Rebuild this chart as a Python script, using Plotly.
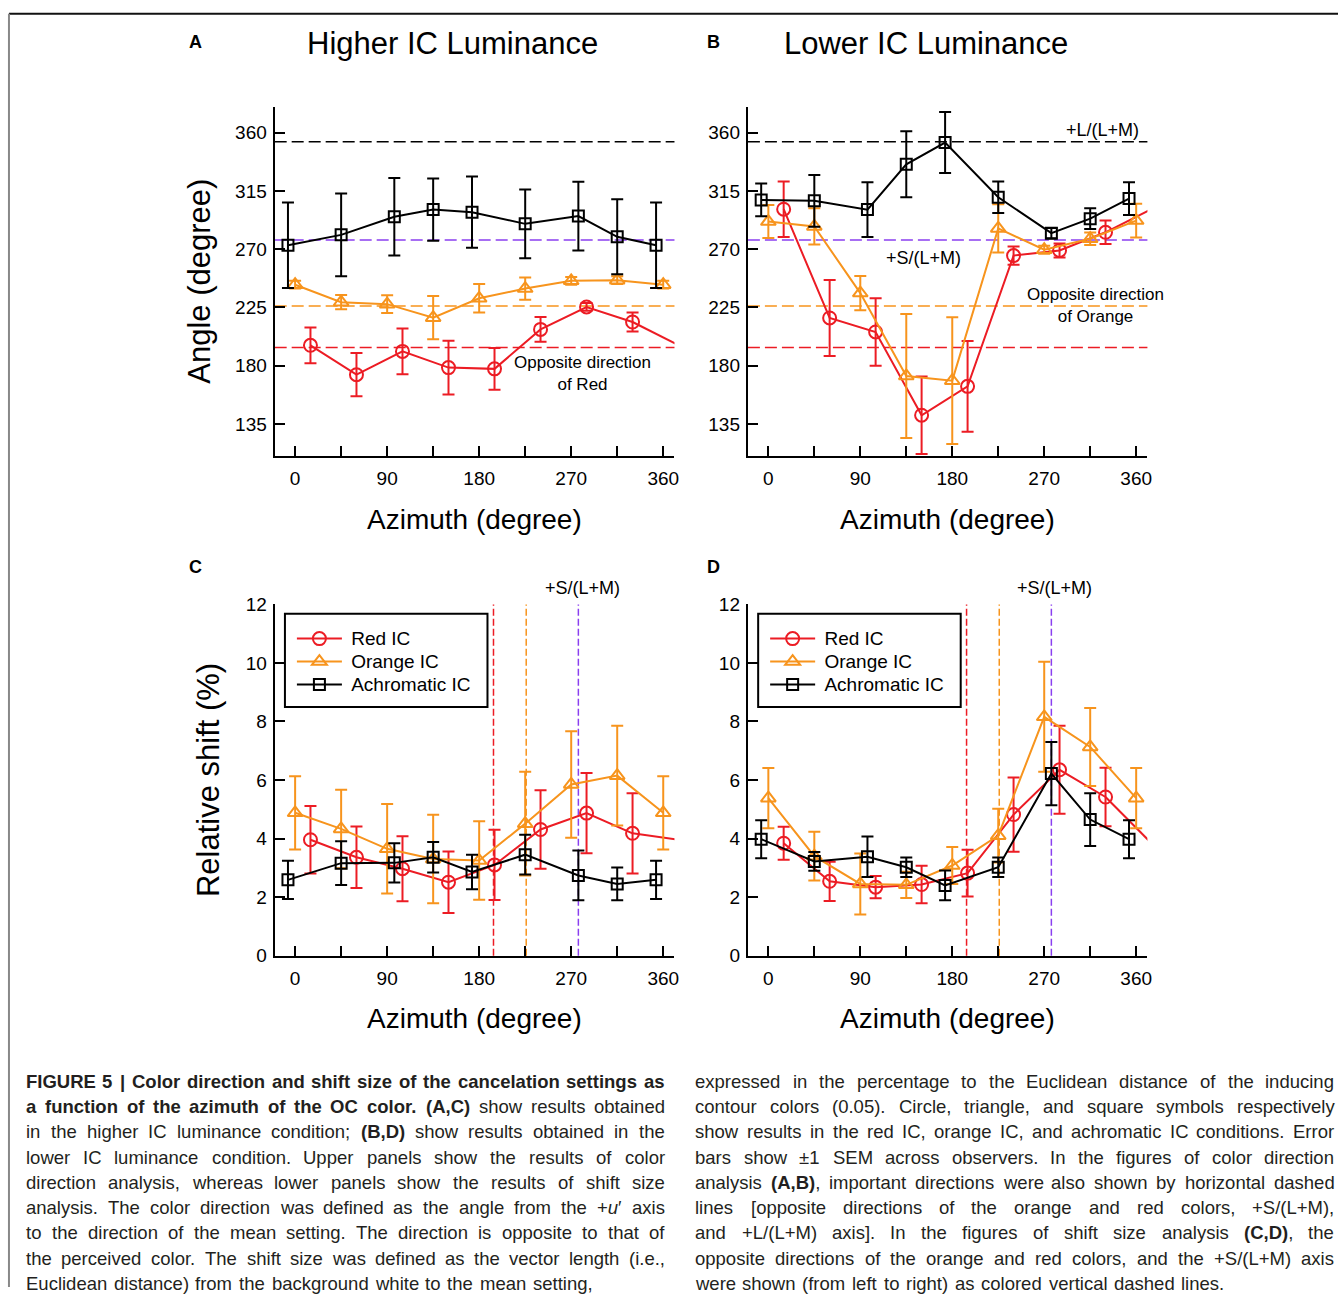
import plotly.graph_objects as go

W, H = 1343, 1298
FONT = "Liberation Sans"
RED = "#ec1c24"
ORANGE = "#f7941d"
BLACK = "#000000"
PURPLE = "#8a3ff0"

# ---------------- data ----------------
ticks_az = [0, 45, 90, 135, 180, 225, 270, 315, 360]
tick_az_labels = ["0", "", "90", "", "180", "", "270", "", "360"]
angle_ticks = [135, 180, 225, 270, 315, 360]
shift_ticks = [0, 2, 4, 6, 8, 10, 12]

black_x = [-7, 45, 97, 135, 173, 225, 277, 315, 353]
orange_x = [0, 45, 90, 135, 180, 225, 270, 315, 360]
red_x = [15, 60, 105, 150, 195, 240, 285, 330]

# Panel A: higher IC luminance, colour direction
A_black_y = [273, 281, 295, 300.5, 298.5, 289.5, 295.5, 279.5, 273]
A_black_err = [33, 32, 30, 24, 27.5, 26.5, 26.5, 29, 33]
A_orange_y = [242.5, 229, 227.5, 217, 232, 239.5, 245.5, 246, 242.5]
A_orange_err = [3, 5.5, 6.8, 16.7, 11, 8.6, 3, 3, 3]
A_red_y = [195.7, 173, 191, 178.5, 177.5, 208, 225.3, 213.7]
A_red_err = [13.8, 16.7, 17.6, 20.8, 16.2, 9.6, 3, 7.3]

# Panel B: lower IC luminance, colour direction
B_black_y = [308, 307.3, 300.5, 335.5, 352.3, 310, 282.3, 293.5, 309]
B_black_err = [12.7, 20, 21.2, 25.5, 23.5, 12.2, 4, 8, 12.7]
B_orange_y = [291.3, 287.5, 236, 172, 168.4, 286, 269.5, 278, 292]
B_orange_err = [12.8, 14, 13.2, 47.8, 49, 18.6, 3, 4.8, 13]
B_red_y = [300.8, 216.8, 206, 141.7, 164, 265, 269, 283]
B_red_err = [21.4, 29.3, 26, 30, 35, 7, 5.4, 9]

# Panel C: higher IC luminance, relative shift
C_black_y = [2.59, 3.16, 3.17, 3.36, 2.86, 3.45, 2.74, 2.45, 2.59]
C_black_err = [0.65, 0.75, 0.67, 0.52, 0.59, 0.68, 0.85, 0.56, 0.65]
C_orange_y = [4.88, 4.33, 3.65, 3.3, 3.25, 4.51, 5.85, 6.15, 4.88]
C_orange_err = [1.25, 1.34, 1.53, 1.51, 1.34, 1.77, 1.82, 1.7, 1.25]
C_red_y = [3.96, 3.36, 2.97, 2.51, 3.1, 4.31, 4.87, 4.18]
C_red_err = [1.15, 1.05, 1.11, 1.05, 1.2, 1.34, 1.37, 1.37]

# Panel D: lower IC luminance, relative shift
D_black_y = [3.98, 3.22, 3.38, 3.02, 2.4, 3.02, 6.22, 4.65, 3.98]
D_black_err = [0.65, 0.32, 0.69, 0.33, 0.51, 0.33, 1.08, 0.9, 0.65]
D_orange_y = [5.38, 3.4, 2.45, 2.42, 3.08, 4.1, 8.16, 7.13, 5.38]
D_orange_err = [1.03, 0.83, 1.04, 0.45, 0.63, 0.92, 1.88, 1.33, 1.03]
D_red_y = [3.84, 2.54, 2.34, 2.43, 2.82, 4.82, 6.35, 5.42]
D_red_err = [0.56, 0.67, 0.38, 0.64, 0.8, 1.27, 1.5, 1.0]

# important directions
opp_red = 194
opp_orange = 226
s_axis = 277
l_axis = 353

series_names = ["Red IC", "Orange IC", "Achromatic IC"]

caption_left = [
    "<b>FIGURE 5 | Color direction and shift size of the cancelation settings as</b>",
    "<b>a function of the azimuth of the OC color. (A,C)</b> show results obtained",
    "in the higher IC luminance condition; <b>(B,D)</b> show results obtained in the",
    "lower IC luminance condition. Upper panels show the results of color",
    "direction analysis, whereas lower panels show the results of shift size",
    "analysis. The color direction was defined as the angle from the +<i>u</i>′ axis",
    "to the direction of the mean setting. The direction is opposite to that of",
    "the perceived color. The shift size was defined as the vector length (i.e.,",
    "Euclidean distance) from the background white to the mean setting,",
]
caption_right = [
    "expressed in the percentage to the Euclidean distance of the inducing",
    "contour colors (0.05). Circle, triangle, and square symbols respectively",
    "show results in the red IC, orange IC, and achromatic IC conditions. Error",
    "bars show ±1 SEM across observers. In the figures of color direction",
    "analysis <b>(A,B)</b>, important directions were also shown by horizontal dashed",
    "lines [opposite directions of the orange and red colors, +S/(L+M),",
    "and +L/(L+M) axis]. In the figures of shift size analysis <b>(C,D)</b>, the",
    "opposite directions of the orange and red colors, and the +S/(L+M) axis",
    "were shown (from left to right) as colored vertical dashed lines.",
]


# ---------------- helpers ----------------
def fx(px):
    return px / W


def fy(py):
    # vertical pixel position (from top) -> paper fraction
    return 1 - ((py - 8.2) / 0.985) / H


fig = go.Figure()

panels = {
    "A": dict(xa="x", ya="y", xd=(275.7, 677), yd=(105, 455)),
    "B": dict(xa="x2", ya="y2", xd=(750.7, 1151.7), yd=(105, 455)),
    "C": dict(xa="x3", ya="y3", xd=(275.7, 677), yd=(603.3, 955)),
    "D": dict(xa="x4", ya="y4", xd=(750.7, 1151.7), yd=(603.3, 955)),
}


def legend_name(s):
    return '\u00a0<span style="font-size:19px">%s</span>' % s


def add_series(xs, ys, errs, color, symbol, size, p, name, legend=None, wrap=False):
    fig.add_trace(go.Scatter(
        x=xs, y=ys, mode="lines+markers", name=legend_name(name),
        line=dict(color=color, width=2),
        marker=dict(symbol=symbol, size=size, color=color, line=dict(color=color, width=2)),
        error_y=dict(type="data", array=errs, visible=True, color=color, thickness=2, width=6),
        xaxis=panels[p]["xa"], yaxis=panels[p]["ya"],
        showlegend=legend is not None, legend=legend or "legend",
    ))
    if wrap:
        fig.add_trace(go.Scatter(
            x=[xs[-1], xs[0] + 360], y=[ys[-1], ys[0]], mode="lines",
            line=dict(color=color, width=2), showlegend=False, hoverinfo="skip",
            xaxis=panels[p]["xa"], yaxis=panels[p]["ya"],
        ))


data = {
    "A": (A_red_y, A_red_err, A_orange_y, A_orange_err, A_black_y, A_black_err, None),
    "B": (B_red_y, B_red_err, B_orange_y, B_orange_err, B_black_y, B_black_err, None),
    "C": (C_red_y, C_red_err, C_orange_y, C_orange_err, C_black_y, C_black_err, "legend"),
    "D": (D_red_y, D_red_err, D_orange_y, D_orange_err, D_black_y, D_black_err, "legend2"),
}
for p, (ry, re, oy, oe, by, be, lg) in data.items():
    add_series(red_x, ry, re, RED, "circle-open", 13, p, series_names[0], lg, wrap=True)
    add_series(orange_x, oy, oe, ORANGE, "triangle-up-open", 13, p, series_names[1], lg)
    add_series(black_x, by, be, BLACK, "square-open", 11, p, series_names[2], lg)

axis_common = dict(
    showline=True, linewidth=2.2, linecolor="black", ticks="inside", ticklen=10,
    tickwidth=2, tickcolor="black", showgrid=False, zeroline=False, mirror=False,
    tickfont=dict(family=FONT, size=19, color="black"),
)
layout_axes = {}
for i, (p, d) in enumerate(panels.items()):
    sfx = "" if i == 0 else str(i + 1)
    layout_axes["xaxis" + sfx] = dict(
        axis_common, domain=[fx(d["xd"][0]), fx(d["xd"][1])], range=[-20, 371],
        tickmode="array", tickvals=ticks_az, ticktext=tick_az_labels,
        anchor="y" + sfx, ticklabelstandoff=4,
    )
    yt = angle_ticks if p in "AB" else shift_ticks
    yr = [110, 380] if p in "AB" else [0, 12]
    layout_axes["yaxis" + sfx] = dict(
        axis_common, domain=[fy(d["yd"][1]), fy(d["yd"][0])], range=yr,
        tickmode="array", tickvals=yt, anchor="x" + sfx, ticklabelstandoff=2,
    )

shapes = []
# frame
shapes.append(dict(type="line", xref="paper", yref="paper", x0=fx(9), x1=1, y0=fy(12), y1=fy(12),
                   line=dict(color="#111", width=2)))
shapes.append(dict(type="line", xref="paper", yref="paper", x0=fx(9), x1=fx(9), y0=fy(12), y1=0,
                   line=dict(color="#888", width=2)))
# horizontal dashed reference lines (A, B)
for ya, xa in (("y", "x"), ("y2", "x2")):
    for val, col in ((l_axis, BLACK), (s_axis, PURPLE), (opp_orange, ORANGE), (opp_red, RED)):
        shapes.append(dict(type="line", xref=xa + " domain", yref=ya, x0=0, x1=1, y0=val, y1=val,
                           line=dict(color=col, width=1.5, dash="12px,5px"), layer="below"))
# vertical dashed reference lines (C, D)
for ya, xa in (("y3", "x3"), ("y4", "x4")):
    for val, col in ((opp_red, RED), (opp_orange, ORANGE), (s_axis, PURPLE)):
        shapes.append(dict(type="line", xref=xa, yref=ya + " domain", x0=val, x1=val, y0=0, y1=1,
                           line=dict(color=col, width=1.5, dash="7px,3px"), layer="below"))
# legend boxes
for x0 in (286, 761):
    shapes.append(dict(type="rect", xref="paper", yref="paper", x0=fx(x0), x1=fx(x0 + 203.3),
                       y0=fy(706), y1=fy(612.7), line=dict(color="black", width=2),
                       fillcolor="rgba(0,0,0,0)", layer="above"))

ann = []


def text(x, y, s, size, bold=False, angle=0, xanchor="center", color="black"):
    ann.append(dict(xref="paper", yref="paper", x=fx(x), y=fy(y), text=("<b>%s</b>" % s) if bold else s,
                    showarrow=False, xanchor=xanchor, yanchor="middle", textangle=angle,
                    font=dict(family=FONT, size=size, color=color), borderpad=0))


text(196, 40, "A", 18, bold=True)
text(716, 40, "B", 18, bold=True)
text(196, 566, "C", 18, bold=True)
text(716, 566, "D", 18, bold=True)
text(454, 42, "Higher IC Luminance", 31)
text(929, 42, "Lower IC Luminance", 31)
text(200, 280, "Angle (degree)", 31, angle=-90)
text(210, 779, "Relative shift (%)", 31, angle=-90)
for cx in (476, 951):
    text(cx, 518, "Azimuth (degree)", 28)
    text(cx, 1018, "Azimuth (degree)", 28)
text(585, 371.7, "Opposite direction<br>of Red", 17)
text(1100, 304.5, "Opposite direction<br>of Orange", 17)
text(1107, 128, "+L/(L+M)", 18)
text(927, 256.7, "+S/(L+M)", 18)
text(585, 586.5, "+S/(L+M)", 18)
text(1058, 586.5, "+S/(L+M)", 18)

# ---------------- caption (justified, word by word) ----------------
REG = {' ': 278, '(': 333, ')': 333, ',': 278, '.': 278, ';': 278, ':': 278, '+': 584, '/': 278,
       '[': 278, ']': 278, '|': 260, '±': 584, '′': 191, '-': 333, '%': 889}
BLD = {' ': 278, '(': 333, ')': 333, ',': 278, '.': 278, '|': 280, ';': 333}
for c, w in zip("ABCDEFGHIJKLMNOPQRSTUVWXYZ",
                [667, 667, 722, 722, 667, 611, 778, 722, 278, 500, 667, 556, 833, 722, 778, 667, 778, 722,
                 667, 611, 722, 667, 944, 667, 667, 611]):
    REG[c] = w
for c, w in zip("abcdefghijklmnopqrstuvwxyz",
                [556, 556, 500, 556, 556, 278, 556, 556, 222, 222, 500, 222, 833, 556, 556, 556, 556, 333,
                 500, 278, 556, 500, 722, 500, 500, 500]):
    REG[c] = w
for c, w in zip("ABCDEFGHIJKLMNOPQRSTUVWXYZ",
                [722, 722, 722, 722, 667, 611, 778, 722, 278, 556, 722, 611, 833, 722, 778, 667, 778, 722,
                 667, 611, 722, 667, 944, 667, 667, 611]):
    BLD[c] = w
for c, w in zip("abcdefghijklmnopqrstuvwxyz",
                [556, 611, 556, 611, 556, 333, 611, 611, 278, 278, 556, 278, 889, 611, 611, 611, 611, 389,
                 556, 333, 611, 556, 778, 556, 556, 500]):
    BLD[c] = w
for c in "0123456789":
    REG[c] = 556
    BLD[c] = 556


def parse(line):
    words, cur, b, it, i = [], [], False, False, 0
    while i < len(line):
        for tag, attr, val in (("<b>", "b", True), ("</b>", "b", False), ("<i>", "i", True), ("</i>", "i", False)):
            if line.startswith(tag, i):
                if attr == "b":
                    b = val
                else:
                    it = val
                i += len(tag)
                break
        else:
            ch = line[i]
            if ch == " ":
                if cur:
                    words.append(cur)
                    cur = []
            else:
                cur.append((ch, b, it))
            i += 1
    if cur:
        words.append(cur)
    return words


def markup(word):
    out, prev, buf = "", None, ""
    for ch, b, it in word + [(None, None, None)]:
        st = (b, it)
        if st != prev and buf:
            s = buf
            if prev[1]:
                s = "<i>%s</i>" % s
            if prev[0]:
                s = "<b>%s</b>" % s
            out += s
            buf = ""
        if ch is not None:
            buf += ch
        prev = st
    return out


CAP_FS = 18.5


def wwidth(word):
    return sum((BLD if b else REG).get(ch, 556) for ch, b, it in word) * CAP_FS / 1000.0


def caption(lines, x0, x1, y0, dy):
    for k, line in enumerate(lines):
        words = parse(line)
        widths = [wwidth(w) for w in words]
        last = k == len(lines) - 1
        gap = 278 * CAP_FS / 1000.0 * 1.35
        if not last and len(words) > 1:
            gap = (x1 - x0 - sum(widths)) / (len(words) - 1)
        x = x0
        for w, ww in zip(words, widths):
            ann.append(dict(xref="paper", yref="paper", x=fx(x), y=fy(y0 + k * dy), text=markup(w),
                            showarrow=False, xanchor="left", yanchor="middle", borderpad=0,
                            font=dict(family=FONT, size=CAP_FS, color="#231f20")))
            x += ww + gap


caption(caption_left, 25, 666, 1081, 25.25)
caption(caption_right, 697, 1338, 1081, 25.25)

legend_style = dict(xanchor="left", yanchor="top", bgcolor="rgba(0,0,0,0)", borderwidth=0,
                    font=dict(family=FONT, size=15.4, color="black"), itemwidth=45)
fig.update_layout(
    width=W, height=H, margin=dict(l=0, r=0, t=0, b=0),
    paper_bgcolor="white", plot_bgcolor="white",
    font=dict(family=FONT, color="black"),
    shapes=shapes, annotations=ann,
    legend=dict(legend_style, x=fx(293), y=fy(621)),
    legend2=dict(legend_style, x=fx(768), y=fy(621)),
    **layout_axes,
)

fig.write_html("out.html")
